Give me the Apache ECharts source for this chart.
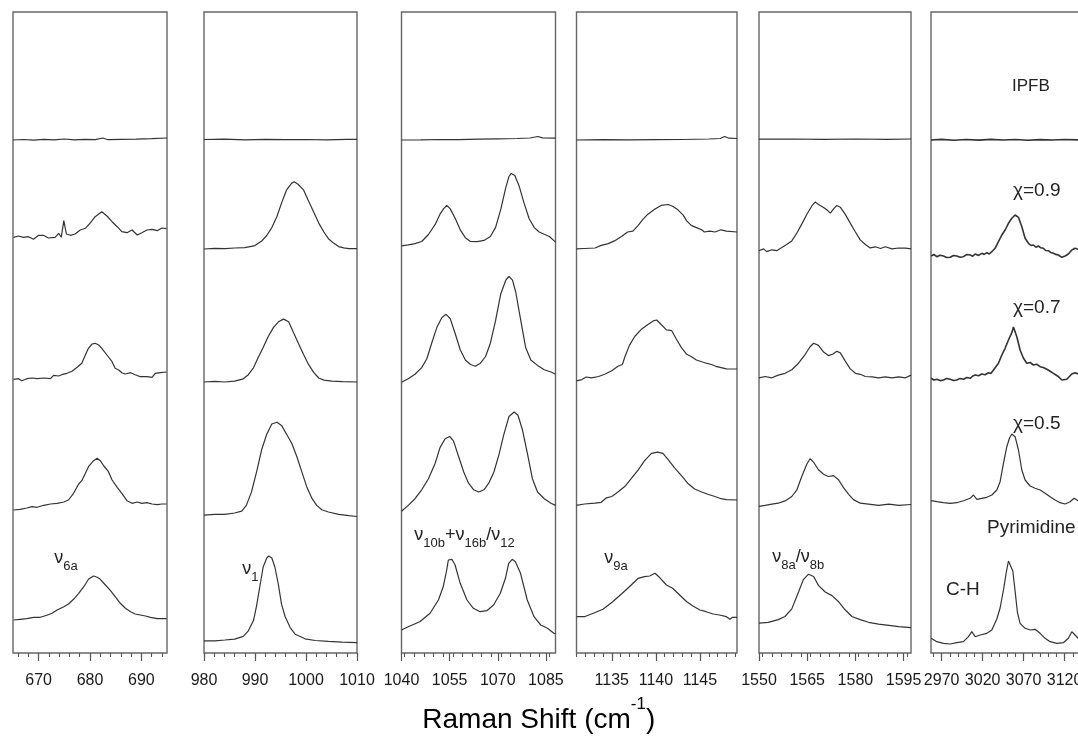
<!DOCTYPE html>
<html>
<head>
<meta charset="utf-8">
<title>Raman spectra</title>
<script src="https://cdn.jsdelivr.net/npm/echarts@6/dist/echarts.min.js"></script>
<style>
  html, body { margin: 0; padding: 0; background: #fff; }
  #chart { width: 1078px; height: 742px; }
</style>
</head>
<body>
<div id="chart"></div>
<script>
// x ranges and ticks of the six windows (cm-1)
var ranges = [[665, 695], [980, 1010], [1040, 1088], [1131, 1149.2], [1550, 1597.3], [2957, 3140]];
var majorTicks = [
    [670, 680, 690],
    [980, 990, 1000, 1010],
    [1040, 1055, 1070, 1085],
    [1135, 1140, 1145],
    [1550, 1565, 1580, 1595],
    [2970, 3020, 3070, 3120]
];
var minorSteps = [2, 2, 3, 1, 3, 10];

// intensities (stacked, arbitrary units) - IPFB, x=0.9, x=0.7, x=0.5, pyrimidine
// v6a window
var v6aIpfb = [[665,513],[667,513.5],[669,512.8],[671,513.6],[673,513.1],[675,514],[677,513.2],[679,513.6],[681,513.4],[682.5,515],[683.5,513.3],[686,513.6],[689,513.8],[692,514.3],[695,515]];
var v6aChi09 = [[665.1,415.7],[666.1,417],[667.0,415.7],[668.0,416.3],[669.0,413.7],[670.0,417.7],[670.9,417.7],[671.9,415],[673.2,415.7],[673.9,419.7],[674.4,415.7],[674.9,432.3],[675.4,419],[676.2,417.7],[677.1,419],[678.1,423],[679.1,424.7],[680.1,430.3],[681.0,436.3],[682.3,441.3],[683.3,437],[684.3,431.3],[685.3,426.3],[686.2,421.3],[687.2,420.3],[688.2,423],[689.2,418],[690.1,420.3],[691.1,423],[692.1,423.7],[693.1,422.3],[694.0,425],[694.9,424.3]];
var v6aChi07 = [[665.1,273.7],[666.1,274.3],[666.7,272.3],[667.7,274.3],[668.7,275],[669.7,274.3],[671.0,275],[672.3,274.3],[672.9,277.7],[673.9,277],[674.5,278.3],[675.5,279.7],[676.5,281.7],[677.5,285.7],[678.4,289.7],[679.1,298],[679.7,304.7],[680.4,309],[681.0,309.7],[681.7,308],[682.3,304.7],[683.3,298],[684.3,291.3],[684.9,284.7],[685.6,283],[686.2,280.3],[686.9,279],[687.9,280.3],[688.8,278.3],[689.8,276.3],[691.1,276.3],[692.1,275.7],[692.7,279.7],[693.7,280.3],[694.9,281]];
var v6aChi05 = [[665.1,143],[666.4,143.7],[667.7,145],[668.7,146.3],[669.7,145.7],[671.0,147.7],[672.3,149],[673.6,149.7],[674.9,151],[675.8,153],[676.8,159.7],[677.8,169],[678.4,172.3],[679.1,179.7],[679.7,186.3],[680.7,192.3],[681.4,194.7],[682.0,192.3],[682.7,187],[683.6,181.3],[684.3,173],[685.3,165.7],[686.2,159.7],[687.2,152.3],[688.2,149.7],[689.2,151],[690.1,149.7],[691.1,150.3],[692.1,149],[693.1,148.3],[694.0,149],[694.9,149]];
var v6aPyr = [[665.1,33],[666.4,33.7],[667.7,34.3],[669.0,35.7],[670.3,35.7],[671.6,37.7],[672.6,39.7],[673.6,43],[674.9,46.3],[675.8,49],[676.8,53.7],[677.8,59.7],[678.8,66.3],[679.7,73.7],[680.7,77],[681.4,75.7],[682.0,73.7],[683.0,68],[684.0,62.3],[684.9,56.3],[685.9,49.7],[686.9,44.7],[687.9,41.3],[688.8,39],[689.8,38],[690.8,37],[691.8,35.7],[693.1,34.3],[694.9,34.3]];
// v1 window
var v1Ipfb = [[980,513.5],[984,513.8],[988,513.2],[992,513.7],[996,513.4],[1000,513.5],[1004,513.2],[1008,513.6],[1010,513.6]];
var v1Chi09 = [[980,404],[982.1,404.6],[984.1,404.3],[986,405],[988,405.3],[990,407.4],[991.3,411.9],[992.3,417.5],[993.3,425.4],[994.3,436.5],[995.2,449.9],[996.2,463.2],[997.2,469.9],[997.7,471.2],[998.5,468.5],[999.5,463.2],[1000.5,452.1],[1001.5,441],[1002.5,429.9],[1003.5,421],[1004.4,414.3],[1005.4,409.9],[1006.4,406.4],[1007.4,405.1],[1008.4,404.3],[1010,404.4]];
var v1Chi07 = [[980,271],[982.1,271.6],[984.1,271],[986,271.8],[987.7,274.2],[988.7,278.3],[989.7,285.2],[990.6,295.3],[991.6,305.4],[992.6,316.5],[993.6,325.4],[994.6,331.2],[995.6,333.9],[996.6,331.2],[997.5,321],[998.5,309.8],[999.5,298.7],[1000.5,288.6],[1001.5,280.7],[1002.5,275],[1003.5,272.9],[1005.1,271.9],[1007.1,271.3],[1010,271]];
var v1Chi05 = [[980,137.8],[982.1,138.7],[984.1,138.7],[986,140],[987.4,141.8],[988.3,147.6],[989.3,160.9],[990.3,180.9],[991.3,203.2],[992.3,218.7],[993.3,229],[994.3,230.7],[995.2,227.6],[996.2,218.7],[997.2,209.8],[998.2,196.5],[999.2,180.9],[1000.2,165.4],[1001.2,154.3],[1002.1,147.6],[1003.1,143.2],[1004.4,141],[1006.4,138.7],[1008.4,137.4],[1010,136.5]];
var v1Pyr = [[980,12.1],[982.1,12.1],[984.1,13],[986,13.9],[987.7,16.6],[988.7,22.2],[989.7,32.4],[990.3,46.9],[991,68],[991.6,86],[992.3,95],[992.7,97],[993.3,95],[993.9,86],[994.6,68],[995.2,48.8],[995.9,36.5],[996.9,25.4],[997.9,18.7],[999.8,14.2],[1001.8,12.5],[1004.4,11.6],[1007.1,10.8],[1010,10.3]];
// v10b+v16b / v12 window
var v12Ipfb = [[1040,513],[1046,513.2],[1052,513.5],[1058,513.3],[1064,513.8],[1070,514.2],[1076,514.5],[1080,515],[1082.5,516.5],[1084,515.2],[1088,514.8]];
var v12Chi09 = [[1040,407.1],[1042.1,408.2],[1044.2,409.4],[1046.3,411.5],[1048.4,418.5],[1050.5,428.6],[1052,438.8],[1053.1,444.1],[1054.1,447.6],[1055.2,444.1],[1056.8,434.3],[1058.3,423.2],[1059.9,415.3],[1061.5,411.5],[1063.6,411.4],[1065.7,412.6],[1067.7,416.5],[1069.3,425.4],[1070.9,443.2],[1072.5,465.4],[1073.5,476.5],[1074.2,479.6],[1075.3,477.4],[1076.6,467.6],[1078.2,449.9],[1079.8,434.3],[1081.4,425.4],[1082.9,421],[1084.5,418.7],[1086.1,416.5],[1087.6,412.1],[1088,410.9]];
var v12Chi07 = [[1040,270.7],[1042.1,274.3],[1044.2,278.7],[1046.3,285.4],[1047.9,294.3],[1049.4,309.8],[1051,325.4],[1052.6,335.6],[1053.9,338.7],[1055.2,334.3],[1056.8,318.7],[1058.3,303.2],[1059.9,293],[1061.5,288.5],[1063.0,286.7],[1064.6,289.8],[1066.2,296.5],[1067.7,309.8],[1069.3,332.1],[1070.9,358.7],[1072.5,372.8],[1073.5,376.5],[1074.6,372.8],[1075.6,361],[1077.2,332.1],[1078.7,305.4],[1080.3,293],[1082.4,287.6],[1084.5,283.2],[1086.6,281],[1088,278.7]];
var v12Chi05 = [[1040,141.8],[1042.1,147.6],[1044.2,154.3],[1046.3,163.2],[1048.4,174.3],[1050.5,189.8],[1052,205.4],[1053.6,214.3],[1055,216.5],[1056.2,212.1],[1057.8,196.5],[1059.4,181],[1060.9,169.8],[1062.5,163.2],[1064.1,161],[1065.7,163.2],[1067.2,169.8],[1068.8,181],[1070.4,198.7],[1071.9,218.7],[1073.5,236.5],[1075.1,241],[1076.3,237.8],[1077.7,223.2],[1079.3,198.7],[1080.8,174.3],[1082.4,161],[1084.5,154.3],[1086.6,149.8],[1088,147.6]];
var v12Pyr = [[1040,23],[1042.6,27],[1045.7,31.3],[1048.9,39.7],[1051.5,53],[1053.0,66.3],[1054.1,83],[1054.6,93],[1055.7,93.7],[1056.7,88],[1058.3,69.7],[1060.4,53],[1062.4,44.7],[1064.5,41.3],[1066.6,42.3],[1068.7,48],[1070.8,59.7],[1072.4,74.7],[1073.4,89.7],[1074.5,93.7],[1075.5,91.3],[1077.1,79.7],[1079.2,53],[1081.3,36.3],[1083.4,28],[1085.5,24.7],[1087.5,19.7],[1088,19.5]];
// v9a window
var v9aIpfb = [[1131,513],[1134,513.4],[1137,513.2],[1140,513.3],[1143,513.5],[1146,514],[1147.3,514.5],[1147.8,516.5],[1148.3,514.8],[1149.2,514.5]];
var v9aChi09 = [[1131,404.1],[1131.9,404.5],[1133.1,405],[1133.8,407.6],[1134.6,409.4],[1135.3,412.1],[1136.1,416.5],[1136.8,421],[1137.4,421.9],[1138,427.6],[1138.5,433.4],[1139.1,438.8],[1139.9,444.1],[1140.6,447.6],[1141.4,448.5],[1141.9,446.8],[1142.5,443.2],[1143.1,437.9],[1143.5,432.1],[1144,427.6],[1144.6,425.4],[1145.2,423.2],[1145.5,421],[1146.1,421.9],[1146.7,421],[1147.4,423.2],[1148,421.9],[1149.2,421]];
var v9aChi07 = [[1131,272.1],[1131.6,273.4],[1132.1,276],[1132.7,275.2],[1133.5,276.5],[1134.2,278.7],[1135,282.3],[1135.7,286.7],[1136.2,288.5],[1136.5,296.5],[1137,307.6],[1137.6,316.5],[1138.4,324.1],[1139.1,328.5],[1139.7,332.1],[1140.1,333],[1140.6,328.5],[1141.2,323.2],[1141.8,322.3],[1142.3,314.3],[1142.9,305.4],[1143.5,298.7],[1144,296.5],[1144.6,293],[1145.2,291.2],[1145.7,289.8],[1146.3,288.5],[1146.8,286.7],[1147.4,285.4],[1148,284.1],[1149.2,284]];
var v9aChi05 = [[1131,147.6],[1131.9,149],[1133.1,149.8],[1133.8,150.7],[1134.4,155.2],[1135,156.5],[1135.7,161],[1136.5,166.7],[1137.2,174.3],[1138,183.2],[1138.7,192.1],[1139.5,199.6],[1140.2,200.9],[1140.8,199.6],[1141.4,193.4],[1142.1,185.4],[1142.9,177.4],[1143.6,169.8],[1144.4,164],[1145.2,161],[1145.9,158.7],[1146.7,156.5],[1147.4,154.3],[1148,153.4],[1149.2,153]];
var v9aPyr = [[1131,36.3],[1131.9,36.3],[1132.9,39.7],[1134.0,43.7],[1135.1,51.3],[1136.1,59],[1137.0,66.3],[1138.0,74.7],[1138.7,76.3],[1139.3,77],[1139.9,79.7],[1140.4,75.7],[1141.2,68],[1141.9,64.7],[1142.7,58],[1143.5,51.3],[1144.2,47],[1145.0,43],[1145.7,41.3],[1146.5,39],[1147.2,38],[1148.0,36.3],[1148.4,33.7],[1148.7,35.7],[1149.2,35.7]];
// v8a / v8b window
var v8Ipfb = [[1550,513.8],[1560,514],[1570,513.6],[1580,514],[1590,513.7],[1597.3,514]];
var v8Chi09 = [[1550,402.3],[1551.4,404.1],[1552.4,401.4],[1554,403.2],[1555.5,402.3],[1557.1,405.4],[1558.6,408.5],[1560.2,412.1],[1561.8,420],[1563.3,428.9],[1564.9,438.8],[1566.4,446.8],[1567.5,451.1],[1568.5,448.5],[1570.1,445.4],[1571.1,443.2],[1572.2,439.9],[1573.2,444.1],[1574.2,447.5],[1575.3,445.8],[1576.8,438.9],[1578.4,429.9],[1580,421],[1581.5,413.1],[1583.1,408.5],[1584.6,405.1],[1586.2,406.2],[1587.8,404.5],[1589.3,406.2],[1591.4,404.1],[1593.5,405],[1595.6,404.9],[1597.3,404.1]];
var v8Chi07 = [[1550,275.2],[1551.9,276.5],[1554,275.2],[1556,277.9],[1558.1,279.7],[1560.2,283.2],[1562.3,289.8],[1564.4,298.7],[1565.9,306.3],[1567,309.8],[1568.5,307.6],[1570.1,300.9],[1571.6,297.4],[1572.9,298.7],[1574.2,301.8],[1575.3,300.1],[1576.8,292.1],[1578.4,284.1],[1580,279.7],[1581.5,278.7],[1583.1,276.5],[1585.2,276.1],[1587.2,275.2],[1589.3,276.1],[1591.4,275.2],[1593.5,276.1],[1595.6,275.2],[1597.3,277.9]];
var v8Chi05 = [[1550,146.7],[1551.9,147.6],[1554,148.9],[1556,149.8],[1558.1,152.1],[1560.2,156.5],[1561.8,163.2],[1563.3,176.5],[1564.9,189],[1565.9,194.3],[1567,190.7],[1568.5,183.2],[1570.1,178.7],[1571.6,176.5],[1573.2,177.4],[1574.8,173],[1576.3,165.4],[1577.9,158.7],[1579.4,153.4],[1581.5,149.8],[1584.1,148.9],[1587.2,147.6],[1590.4,148.9],[1593.5,147.6],[1597.3,148.5]];
var v8Pyr = [[1550,29.8],[1552.9,30.7],[1556,33.4],[1558.1,36.5],[1560.2,44.1],[1562.3,61],[1563.8,73.4],[1565.4,78.8],[1567,76.5],[1568.5,67.6],[1570.6,61],[1572.7,57.4],[1574.8,51.2],[1576.8,43.2],[1578.9,36.5],[1581.5,33.4],[1584.1,30.7],[1587.2,28.9],[1590.4,27.6],[1593.5,26.3],[1597.3,25.4]];
// C-H window
var chIpfb = [[2957,513],[2970,513.6],[2985,512.8],[3000,513.5],[3015,512.9],[3030,513.6],[3045,513],[3060,513.5],[3075,512.8],[3090,513.4],[3105,513],[3120,513.5],[3140,513]];
var chChi09 = [[2957.2,397],[2960.5,398.5],[2964.1,396.3],[2968,397.8],[2972.2,397],[2976,395.5],[2980.4,395.7],[2984.5,397.5],[2988.5,397],[2992.5,395.8],[2996.6,396.3],[3000.7,398.5],[3004.8,398],[3008,396.8],[3010.9,399],[3015,397.6],[3019,399.7],[3022,398.6],[3025.1,400.3],[3028,399],[3031.2,401.3],[3035.2,404.7],[3039.3,411.3],[3043.4,418],[3047.4,423],[3051.5,429.7],[3055.6,434.7],[3059.6,438],[3063.7,435.7],[3067.8,426.3],[3071.8,414.7],[3075.9,409.7],[3079,407.5],[3082,408],[3085,405.8],[3088,407],[3091,405.2],[3094.1,404.7],[3097,402.5],[3100.2,402.3],[3103,400.6],[3106.3,399.7],[3109.5,398.6],[3112.4,398],[3116.6,395.7],[3120.6,397],[3124.6,399],[3128.8,403],[3132.8,404.7],[3136.5,403.7],[3140,404]];
var chChi07 = [[2957.2,274.7],[2960.5,273],[2964.1,273.7],[2968,272.4],[2972.2,273],[2976,274.5],[2980.4,273.7],[2984.5,272.5],[2988.5,273],[2992.5,274.6],[2996.6,273.7],[3000.7,275.5],[3004.8,274.7],[3008,277],[3010.9,278],[3015,277.2],[3019,279],[3023,278.2],[3027.1,280.3],[3030,279.5],[3033.2,283],[3039.3,289.7],[3043.4,298],[3047.4,304.7],[3051.5,313],[3055.6,320.3],[3057.6,326],[3061.7,316.3],[3065.7,303],[3069.8,294.7],[3073.9,289.7],[3078,290.5],[3082,288],[3086,288.8],[3090.1,286.3],[3094,285.5],[3098.3,283.7],[3102,282],[3106.3,279.7],[3109.5,278],[3112.4,276.3],[3116.6,273],[3122.6,273.7],[3128.8,279],[3132.8,280.3],[3136.5,279],[3140,278.5]];
var chChi05 = [[2957.2,152.3],[2964.1,151.3],[2972.2,150.3],[2980.4,149.7],[2988.5,150.3],[2996.6,152.3],[3004.8,154.7],[3008.8,158],[3012.9,153.7],[3019,154.7],[3025.1,155.7],[3031.2,158],[3037.3,163],[3041.3,171.3],[3045.4,189.7],[3049.5,206.3],[3052.7,214.7],[3055.6,219],[3059.6,216.3],[3063.7,203],[3067.8,183],[3071.8,173],[3077.9,167],[3084,164.7],[3090.1,163],[3096.2,159.7],[3102.3,156.3],[3108.4,153],[3114.5,150.3],[3120.6,149],[3126.7,151.3],[3131.6,154.7],[3136.5,152.3],[3140,152]];
var chPyr = [[2957.2,14.7],[2964.1,11.3],[2972.2,9.7],[2980.4,9],[2988.5,10.3],[2996.6,11.3],[3002.7,16.3],[3006.8,21.3],[3010.9,16.3],[3017,18],[3025.1,19.7],[3031.2,23],[3037.3,34],[3041.3,45],[3045.4,63],[3048.7,80],[3051.5,92],[3053.5,94],[3056.8,82],[3059.6,62],[3062.4,40.7],[3065.7,29.7],[3071.8,24.7],[3077.9,23],[3084,23.7],[3090.1,19.7],[3096.2,14.7],[3102.3,11.3],[3110.5,9.7],[3118.5,10.3],[3124.6,14.7],[3128.8,21.3],[3132.8,18],[3136.5,14.7],[3140,14]];

var traces = [
    [v6aIpfb, v6aChi09, v6aChi07, v6aChi05, v6aPyr],
    [v1Ipfb, v1Chi09, v1Chi07, v1Chi05, v1Pyr],
    [v12Ipfb, v12Chi09, v12Chi07, v12Chi05, v12Pyr],
    [v9aIpfb, v9aChi09, v9aChi07, v9aChi05, v9aPyr],
    [v8Ipfb, v8Chi09, v8Chi07, v8Chi05, v8Pyr],
    [chIpfb, chChi09, chChi07, chChi05, chPyr]
];

// panel placement
var panelLeft = [13, 204, 401.5, 576.5, 759, 931];
var panelWidth = [154, 153, 154, 160.5, 152, 150];
var panelTop = 12, panelHeight = 641;
var font = 'Liberation Sans, Arial, sans-serif';

var chart = echarts.init(document.getElementById('chart'), null, {renderer: 'canvas'});

var grid = [], xAxis = [], yAxis = [], series = [];
ranges.forEach(function (r, i) {
    grid.push({
        left: panelLeft[i], top: panelTop, width: panelWidth[i], height: panelHeight,
        outerBoundsMode: 'none', containLabel: false,
        show: true, borderColor: '#666', borderWidth: 1.4, backgroundColor: 'transparent'
    });
    var minor = [];
    var start = Math.ceil(r[0] / minorSteps[i]) * minorSteps[i];
    for (var v = start; v <= r[1]; v += minorSteps[i]) minor.push(v);
    // major ticks + labels
    xAxis.push({
        gridIndex: i, type: 'value', position: 'bottom', min: r[0], max: r[1],
        axisLine: {show: false}, splitLine: {show: false},
        axisTick: {show: true, customValues: majorTicks[i], length: 8, lineStyle: {color: '#555', width: 1.2}},
        axisLabel: {customValues: majorTicks[i], margin: 20, fontSize: 16, color: '#1a1a1a', fontFamily: font,
            formatter: function (val) { return String(val); }}
    });
    // minor ticks
    xAxis.push({
        gridIndex: i, type: 'value', position: 'bottom', min: r[0], max: r[1],
        axisLine: {show: false}, splitLine: {show: false},
        axisTick: {show: true, customValues: minor, length: 4, lineStyle: {color: '#555', width: 1.1}},
        axisLabel: {show: false}
    });
    yAxis.push({gridIndex: i, type: 'value', min: 0, max: panelHeight, show: false});
    traces[i].forEach(function (d, k) {
        series.push({
            type: 'line', xAxisIndex: 2 * i, yAxisIndex: i, data: d,
            symbol: 'none', silent: true, clip: true,
            lineStyle: {color: '#333', width: (i === 5 && k < 3) ? 1.6 : 1.2}
        });
    });
});

var subRich = {
    n: {fontSize: 18, lineHeight: 18, verticalAlign: 'top', fontFamily: font, color: '#222'},
    s: {fontSize: 13, lineHeight: 13, verticalAlign: 'bottom', fontFamily: font, color: '#222'},
    sp: {fontSize: 1, lineHeight: 24}
};
function bandLabel(text, x, y) {
    return {type: 'text', left: x, top: y, silent: true,
        style: {text: text, rich: subRich, fill: '#222'}};
}
function plainLabel(text, x, yc, size) {
    return {type: 'text', left: x, top: yc - size / 2 - 1, silent: true,
        style: {text: text, fontSize: size, fontFamily: font, fill: '#222'}};
}

var graphic = [
    bandLabel('{sp| }{n|ν}{s|6a}', 54, 549),
    bandLabel('{sp| }{n|ν}{s|1}', 242, 560),
    bandLabel('{sp| }{n|ν}{s|10b}{n|+ν}{s|16b}{n|/ν}{s|12}', 414, 526),
    bandLabel('{sp| }{n|ν}{s|9a}', 604, 549),
    bandLabel('{sp| }{n|ν}{s|8a}{n|/ν}{s|8b}', 772, 548),
    plainLabel('IPFB', 1012, 87, 17),
    plainLabel('χ=0.9', 1013, 192, 19),
    plainLabel('χ=0.7', 1013, 309, 19),
    plainLabel('χ=0.5', 1013, 425, 19),
    plainLabel('Pyrimidine', 987, 529, 19),
    plainLabel('C-H', 946, 591, 19),
    {type: 'text', left: 422, top: 696, silent: true,
        style: {text: '{sp| }{m|Raman Shift (cm}{u|-1}{m|)}', rich: {
            sp: {fontSize: 1, lineHeight: 38},
            m: {fontSize: 28, lineHeight: 28, verticalAlign: 'bottom', fontFamily: font, color: '#1a1a1a'},
            u: {fontSize: 17, lineHeight: 17, verticalAlign: 'top', fontFamily: font, color: '#1a1a1a'}
        }}}
];

chart.setOption({
    backgroundColor: '#fff',
    animation: false,
    grid: grid,
    xAxis: xAxis,
    yAxis: yAxis,
    series: series,
    graphic: graphic
});
</script>
</body>
</html>
